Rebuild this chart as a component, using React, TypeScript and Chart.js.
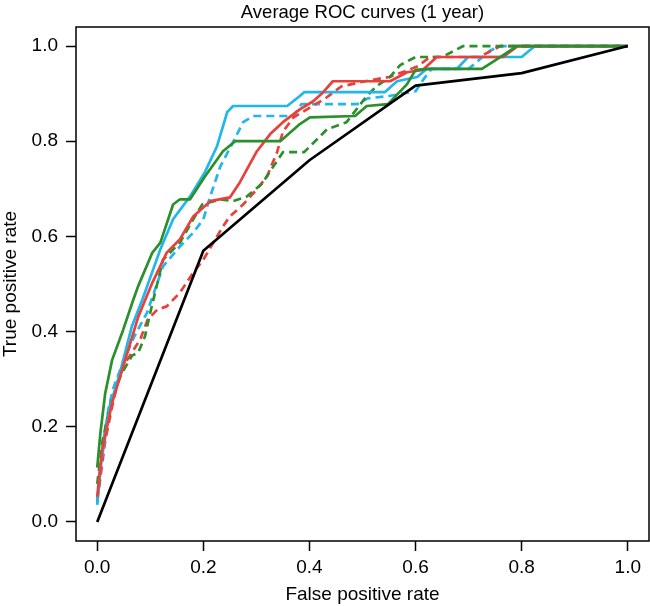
import { useEffect, useRef } from "react"
import { Chart, registerables } from "chart.js"

Chart.register(...registerables)

// tick positions
const xTicks = [0, 0.2, 0.4, 0.6, 0.8, 1.0]
const yTicks = [0, 0.2, 0.4, 0.6, 0.8, 1.0]

// reference curve (black)
const blackFpr = [0, 0.2, 0.4, 0.6, 0.8, 1]
const blackTpr = [0, 0.57, 0.76, 0.917, 0.943, 1]

// green solid
const greenFpr = [0, 0.006, 0.015, 0.028, 0.049, 0.068, 0.077, 0.104, 0.119, 0.143, 0.156, 0.175, 0.203, 0.237, 0.26, 0.345, 0.382, 0.401, 0.486, 0.508, 0.548, 0.584, 0.6, 0.627, 0.725, 0.753, 0.791, 1]
const greenTpr = [0.114, 0.187, 0.27, 0.34, 0.404, 0.467, 0.495, 0.566, 0.587, 0.667, 0.678, 0.678, 0.726, 0.779, 0.8, 0.8, 0.836, 0.85, 0.853, 0.874, 0.878, 0.92, 0.95, 0.952, 0.952, 0.972, 1, 1]

// red solid
const redFpr = [0, 0.009, 0.028, 0.049, 0.077, 0.104, 0.131, 0.156, 0.181, 0.213, 0.25, 0.269, 0.301, 0.326, 0.35, 0.382, 0.407, 0.426, 0.444, 0.552, 0.584, 0.614, 0.64, 0.765, 0.793, 1]
const redTpr = [0.053, 0.15, 0.25, 0.327, 0.43, 0.503, 0.566, 0.594, 0.642, 0.674, 0.682, 0.714, 0.779, 0.815, 0.84, 0.867, 0.884, 0.903, 0.926, 0.926, 0.945, 0.95, 0.977, 0.977, 1, 1]

// cyan solid
const cyanFpr = [0, 0.006, 0.024, 0.043, 0.065, 0.085, 0.094, 0.119, 0.143, 0.175, 0.203, 0.226, 0.245, 0.256, 0.358, 0.382, 0.39, 0.542, 0.565, 0.603, 0.621, 0.678, 0.699, 0.8, 0.825, 1]
const cyanTpr = [0.04, 0.116, 0.242, 0.314, 0.41, 0.467, 0.495, 0.573, 0.636, 0.684, 0.735, 0.79, 0.861, 0.874, 0.874, 0.895, 0.903, 0.903, 0.926, 0.935, 0.952, 0.952, 0.977, 0.977, 1, 1]

// green dashed
const greenDashFpr = [0, 0.01, 0.025, 0.045, 0.066, 0.077, 0.09, 0.1, 0.124, 0.156, 0.181, 0.198, 0.232, 0.256, 0.282, 0.31, 0.35, 0.39, 0.433, 0.47, 0.508, 0.527, 0.552, 0.571, 0.6, 0.65, 0.69, 1]
const greenDashTpr = [0.08, 0.17, 0.25, 0.31, 0.35, 0.355, 0.39, 0.44, 0.551, 0.587, 0.636, 0.667, 0.678, 0.674, 0.684, 0.71, 0.777, 0.777, 0.825, 0.84, 0.895, 0.916, 0.935, 0.96, 0.977, 0.977, 1, 1]

// red dashed
const redDashFpr = [0, 0.002, 0.015, 0.028, 0.04, 0.056, 0.081, 0.095, 0.113, 0.131, 0.156, 0.181, 0.2, 0.219, 0.237, 0.25, 0.275, 0.301, 0.32, 0.339, 0.35, 0.37, 0.4, 0.43, 0.46, 0.5, 0.55, 0.58, 0.605, 0.627, 0.72, 0.76, 1]
const redDashTpr = [0.046, 0.06, 0.17, 0.242, 0.3, 0.34, 0.383, 0.425, 0.446, 0.453, 0.482, 0.524, 0.551, 0.587, 0.621, 0.642, 0.667, 0.699, 0.726, 0.777, 0.82, 0.85, 0.87, 0.89, 0.915, 0.925, 0.935, 0.947, 0.958, 0.977, 0.977, 1, 1]

// cyan dashed
const cyanDashFpr = [0, 0.011, 0.021, 0.03, 0.05, 0.07, 0.094, 0.124, 0.156, 0.181, 0.2, 0.213, 0.232, 0.256, 0.275, 0.294, 0.37, 0.385, 0.49, 0.51, 0.55, 0.6, 0.615, 0.63, 0.7, 0.74, 0.76, 1]
const cyanDashTpr = [0.036, 0.166, 0.236, 0.28, 0.34, 0.39, 0.44, 0.537, 0.579, 0.608, 0.636, 0.684, 0.747, 0.798, 0.84, 0.853, 0.853, 0.878, 0.878, 0.89, 0.895, 0.905, 0.93, 0.952, 0.952, 0.99, 1, 1]

const FONT = "'Liberation Sans', Arial, Helvetica, sans-serif"

const toPoints = (xs: number[], ys: number[]) => xs.map((x, i) => ({ x, y: ys[i] }))

// frame + title + axis labels, drawn like base R graphics
const framePlugin = {
  id: "frame",
  afterDraw(chart: Chart) {
    const { ctx, chartArea } = chart
    const { left, right, top, bottom } = chartArea
    ctx.save()
    ctx.strokeStyle = "#000"
    ctx.lineWidth = 1.5
    ctx.strokeRect(left, top, right - left, bottom - top)

    ctx.fillStyle = "#000"
    ctx.textAlign = "center"
    ctx.textBaseline = "alphabetic"
    const cx = (left + right) / 2
    ctx.font = `18.5px ${FONT}`
    ctx.fillText("Average ROC curves (1 year)", cx, 18)
    ctx.font = `19px ${FONT}`
    ctx.fillText("False positive rate", cx, 600)

    ctx.translate(15.5, (top + bottom) / 2)
    ctx.rotate(-Math.PI / 2)
    ctx.fillText("True positive rate", 0, 0)
    ctx.restore()
  },
}

export default function App() {
  const chartRef = useRef<HTMLCanvasElement>(null)
  const chartInstance = useRef<Chart | null>(null)

  useEffect(() => {
    if (!chartRef.current) return
    if (chartInstance.current) chartInstance.current.destroy()
    const ctx = chartRef.current.getContext("2d")
    if (!ctx) return

    const solid = (label: string, color: string, xs: number[], ys: number[]) => ({
      label,
      data: toPoints(xs, ys),
      borderColor: color,
      borderWidth: 2.7,
      pointRadius: 0,
      tension: 0,
      fill: false,
      borderJoinStyle: "round" as const,
      borderCapStyle: "butt" as const,
    })
    const dashed = (label: string, color: string, xs: number[], ys: number[]) => ({
      ...solid(label, color, xs, ys),
      borderDash: [8, 5],
    })

    const tickGrid = {
      display: true,
      drawOnChartArea: false,
      drawTicks: true,
      tickLength: 10,
      tickColor: "#000",
      tickWidth: 1.5,
    }

    chartInstance.current = new Chart(ctx, {
      type: "line",
      data: {
        datasets: [
          solid("Reference", "#000000", blackFpr, blackTpr),
          solid("Green", "#2b8f2b", greenFpr, greenTpr),
          solid("Red", "#e8413c", redFpr, redTpr),
          solid("Cyan", "#21b6ec", cyanFpr, cyanTpr),
          dashed("Green (dashed)", "#2b8f2b", greenDashFpr, greenDashTpr),
          dashed("Red (dashed)", "#e8413c", redDashFpr, redDashTpr),
          dashed("Cyan (dashed)", "#21b6ec", cyanDashFpr, cyanDashTpr),
        ],
      },
      options: {
        animation: false,
        responsive: true,
        maintainAspectRatio: false,
        layout: { padding: { top: 27, right: 1, left: 0, bottom: 0 } },
        plugins: {
          legend: { display: false },
          tooltip: { enabled: false },
          title: { display: false },
        },
        scales: {
          x: {
            type: "linear",
            min: -0.04,
            max: 1.04,
            afterBuildTicks: (s: any) => {
              s.ticks = xTicks.map((v) => ({ value: v }))
            },
            afterFit: (s: any) => {
              s.height = 65
            },
            grid: tickGrid,
            border: { display: false },
            ticks: {
              color: "#000",
              font: { family: FONT, size: 19 },
              padding: 5,
              maxRotation: 0,
              autoSkip: false,
              callback: (v: any) => Number(v).toFixed(1),
            },
          },
          y: {
            type: "linear",
            min: -0.04,
            max: 1.04,
            afterBuildTicks: (s: any) => {
              s.ticks = yTicks.map((v) => ({ value: v }))
            },
            afterFit: (s: any) => {
              s.width = 76
            },
            grid: tickGrid,
            border: { display: false },
            ticks: {
              color: "#000",
              font: { family: FONT, size: 19 },
              padding: 8,
              autoSkip: false,
              callback: (v: any) => Number(v).toFixed(1),
            },
          },
        },
      },
      plugins: [framePlugin],
    })

    return () => {
      if (chartInstance.current) {
        chartInstance.current.destroy()
        chartInstance.current = null
      }
    }
  }, [])

  return (
    <div style={{ position: "absolute", left: 0, top: 0, width: 650, height: 606, background: "#fff" }}>
      <canvas ref={chartRef}></canvas>
    </div>
  )
}
